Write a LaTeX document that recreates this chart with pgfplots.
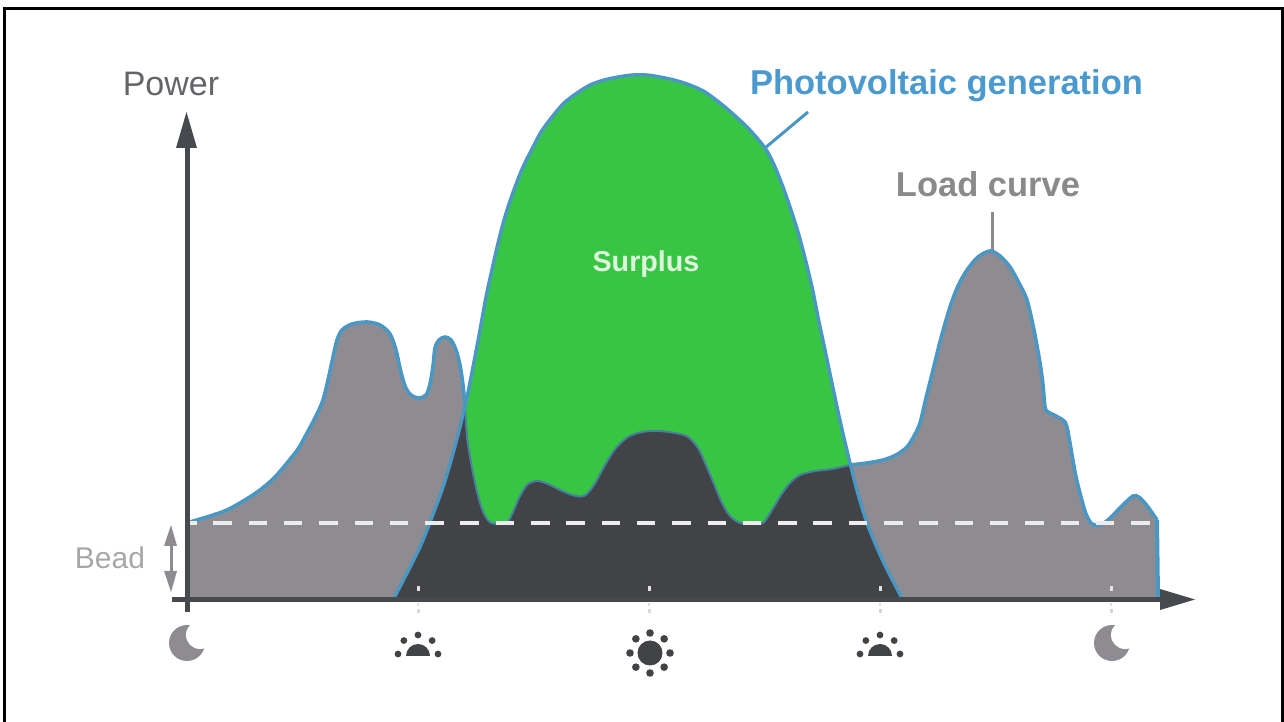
\documentclass[border=0pt]{standalone}
\usepackage{fontspec}
\setmainfont{Liberation Sans}
\usepackage{pgfplots}
\pgfplotsset{compat=1.18}
\usepackage{pgfplotstable}
\definecolor{loadgray}{HTML}{8E8C90}
\definecolor{darkfill}{HTML}{414347}
\definecolor{surplus}{HTML}{38C544}
\definecolor{pvblue}{HTML}{4B97C4}
\definecolor{titleblue}{HTML}{4A9AD0}
\definecolor{axisdark}{HTML}{46494D}
\definecolor{textgray}{HTML}{8A898C}
\definecolor{surplustext}{HTML}{DDF5DC}
\pgfplotstableread{
x y
190 78
210 84
227 90
245 100
260 110
274 122
287 137
298 151
307 167
316 184
323 200
328 220
333 243
337 260
342 270
352 276
367 278
380 275
390 266
396 250
400 232
405 214
411 205
419 202
426 205
430 216
433 234
435 252
439 260
445 263
451 260
456 250
460 235
463 215
465 193
}\loadleft
\pgfplotstableread{
x y
465 193
467 163
470 143
475 117
480 97
485 84
491 77
499 76
507 77
513 88
519 102
527 115
537 119
548 116
560 110
572 105
584 104
594 115
605 135
616 152
628 163
642 168
658 169
675 167
688 163
698 152
706 135
714 116
722 97
730 84
740 77
752 76
763 77
772 90
781 105
790 117
800 125
815 129
832 131
850 135
}\loadmid
\pgfplotstableread{
x y
850 135
867 137
883 140
896 145
907 153
914 164
920 177
926 202
933 230
941 262
950 293
958 314
967 330
978 343
990 349
1000 344
1010 333
1019 317
1027 300
1034 270
1040 237
1043 215
1045 193
1048 188
1056 184
1065 178
1068 168
1072 145
1076 123
1081 103
1086 86
1092 76
1100 75
1108 80
1120 92
1133 104
1140 102
1148 93
1157 80
}\loadright
\pgfplotstableread{
x y
393 0
407 27
420 53
432 83
443 113
452 143
460 173
467 203
473 233
480 270
486 303
493 335
500 365
507 390
515 413
523 433
532 451
541 468
552 483
564 497
577 507
590 515
604 520
618 523
632 525
647 525
660 523
674 520
690 515
705 508
720 497
733 486
746 474
757 462
767 449
775 433
783 413
791 390
798 368
805 342
812 313
818 283
825 250
833 212
841 175
850 137
858 106
867 77
875 57
883 39
893 19
903 0
}\pv
\pgfplotstableread{
x y
393 0
407 27
420 53
432 83
443 113
452 143
460 173
465 193
}\pvleft
\pgfplotstableread{
x y
850 137
858 106
867 77
875 57
883 39
893 19
903 0
}\pvright
\pgfplotstableread{
x y
190 77
1150 77
}\bead
\begin{document}
\begin{tikzpicture}
\useasboundingbox (0,0) rectangle (1284pt,722pt);
\begin{axis}[at={(0,0)},anchor=south west,x=1pt,y=1pt,xmin=0,xmax=1284,ymin=-122,ymax=600,
  axis lines=none,clip=false,ticks=none]
\addplot[fill=loadgray,draw=none,smooth] table {\loadleft} \closedcycle;
\addplot[fill=loadgray,draw=none,smooth] table {\loadright} \closedcycle;
\addplot[fill=surplus,draw=none,smooth] table {\pv} \closedcycle;
\addplot[fill=darkfill,draw=darkfill,line width=0.4pt,smooth] table {\pvleft} \closedcycle;
\addplot[fill=darkfill,draw=darkfill,line width=0.4pt,smooth] table {\loadmid} \closedcycle;
\addplot[fill=darkfill,draw=darkfill,line width=0.4pt,smooth] table {\pvright} \closedcycle;
\addplot[draw=pvblue,line width=3.6pt,smooth] table {\loadleft};
\addplot[draw=pvblue,line width=3.6pt,smooth] table {\loadright};
\addplot[draw=pvblue,line width=4pt] coordinates {(1157,80) (1158,3)};
\addplot[draw=pvblue!70!darkfill,line width=2pt,smooth] table {\loadmid};
\addplot[draw=pvblue,line width=3.4pt,smooth] table {\pv};
\addplot[draw=white!90!darkfill,line width=3.8pt,dash pattern=on 18.5pt off 16.8pt,dash phase=12pt] table {\bead};
\end{axis}
\begin{scope}[x=1pt,y=-1pt,yshift=722pt]
  % frame
  \draw[black,line width=3pt] (4.5,722) -- (4.5,8.5) -- (1282.5,8.5) -- (1282.5,722);
  % axes
  \fill[axisdark] (184.5,612) rectangle (189.5,145);
  \fill[axisdark] (176,148) -- (197,148) -- (186.5,112) -- cycle;
  \fill[axisdark] (172,597) rectangle (1165,602.5);
  \fill[axisdark] (1160,589) -- (1160,610) -- (1195,599.5) -- cycle;
  % tick dots
  \foreach \x in {418,649,880,1111}{
    \fill[white!75!loadgray] (\x-1.5,586) rectangle (\x+1.5,591);
    \fill[white!75!loadgray] (\x-1,603) rectangle (\x+1,606);
    \fill[white!65!loadgray] (\x-1.5,609) rectangle (\x+1.5,613);
  }
  % bead arrow
  \fill[loadgray] (169.5,535) rectangle (172.5,580);
  \fill[loadgray] (164,546) -- (177,546) -- (171,525) -- cycle;
  \fill[loadgray] (164,571) -- (177,571) -- (171,592) -- cycle;
  % leaders
  \draw[pvblue,line width=3pt] (765,148) -- (808,112);
  \draw[textgray,line width=3pt] (992,212) -- (992,250);
  % text
  \node[text=axisdark!85!white,font=\fontsize{34}{40}\selectfont] at (171,84) {Power};
  \node[text=titleblue,font=\fontsize{34.5}{40}\selectfont\bfseries] at (946.5,86) {Photovoltaic generation};
  \node[text=textgray,font=\fontsize{34.5}{40}\selectfont\bfseries] at (988,184) {Load curve};
  \node[text=surplustext,font=\fontsize{28.7}{34}\selectfont\bfseries] at (646,264) {Surplus};
  \node[text=textgray!75!white,font=\fontsize{30}{36}\selectfont] at (110,558) {Bead};
  % moons
  \foreach \x in {187,1112}{
    \fill[loadgray] (\x,643) circle[radius=18pt];
    \fill[white] (\x+13,635) circle[radius=14pt];
  }
  % half suns
  \foreach \x in {418,880}{
    \fill[darkfill] (\x-12,656) arc[start angle=180,end angle=0,radius=12pt] -- cycle;
    \foreach \a in {0,45,90,135,180}{
      \fill[darkfill] ({\x+20*cos(\a)},{654-19*sin(\a)}) circle[radius=3.4pt];
    }
  }
  % sun
  \fill[darkfill] (650,653) circle[radius=12.5pt];
  \foreach \a in {0,45,...,315}{
    \fill[darkfill] ({650+20*cos(\a)},{653-20*sin(\a)}) circle[radius=3.8pt];
  }
\end{scope}
\end{tikzpicture}
\end{document}
